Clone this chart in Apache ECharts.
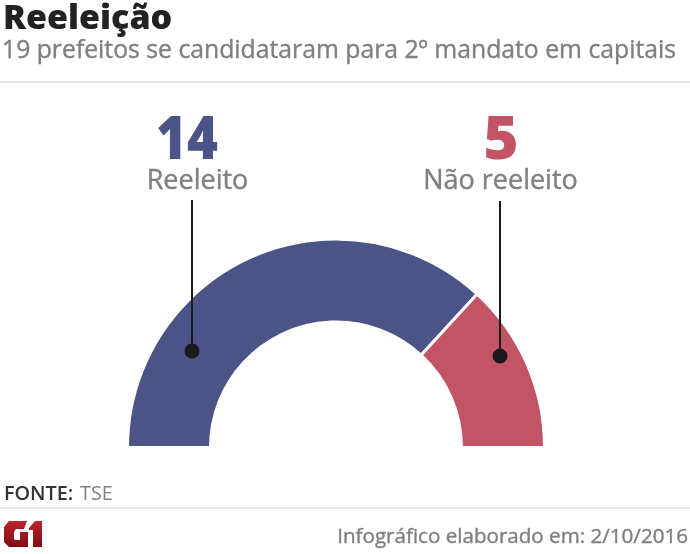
<!DOCTYPE html>
<html lang="pt">
<head>
    <meta charset="UTF-8">
    <title>Reeleição</title>
    <style>
        html, body { margin: 0; padding: 0; background: #fff; }
    </style>
</head>
<body>
<script src="https://cdn.jsdelivr.net/npm/echarts@6/dist/echarts.min.js"></script>

<div id="main" style="width: 690px;height:554px;"></div>

<script type="text/javascript">
    var categories = ['Reeleito', 'Não reeleito'];
    var values = [14, 5];
    var colors = ['#4c5387', '#c25466'];

    var font = '"Open Sans", sans-serif';
    var myChart = echarts.init(document.getElementById('main'));

    var data = [];
    for (var i = 0; i < categories.length; i++) {
        data.push({ name: categories[i], value: values[i], itemStyle: { color: colors[i] } });
    }

    function txt(x, y, text, size, weight, color, align, scaleX) {
        return {
            type: 'text', x: x, y: y, z: 10, scaleX: scaleX || 1,
            style: {
                text: text, fontSize: size, fontWeight: weight, fontFamily: font,
                fill: color, align: align || 'left', verticalAlign: 'middle',
                // os textos cinza da referencia sao um pouco mais grossos
                stroke: weight === 500 ? color : null, lineWidth: weight === 500 ? 0.4 : 0
            }
        };
    }
    function rule(y) {
        return { type: 'rect', shape: { x: 0, y: y, width: 690, height: 2 }, style: { fill: '#e6e6e6' } };
    }
    function leader(x, y1, y2) {
        return [
            { type: 'line', z: 10, shape: { x1: x, y1: y1, x2: x, y2: y2 }, style: { stroke: '#1a1a1a', lineWidth: 2 } },
            { type: 'circle', z: 10, shape: { cx: x, cy: y2, r: 7.5 }, style: { fill: '#1a1a1a' } }
        ];
    }
    // logo G1
    var logoFill = new echarts.graphic.LinearGradient(0, 0, 0, 1, [
        { offset: 0, color: '#c0222c' },
        { offset: 1, color: '#7e0d14' }
    ]);
    function logoPart(points) {
        return { type: 'polygon', z: 10, shape: { points: points }, style: { fill: logoFill } };
    }

    var graphics = [
        txt(3, 19, 'Reeleição', 34, 800, '#222222'),
        txt(2, 51, '19 prefeitos se candidataram para 2º mandato em capitais', 24.75, 500, '#808080'),
        rule(81),
        txt(187, 142, String(values[0]), 60, 800, colors[0], 'center', 0.88),
        txt(197.5, 181, categories[0], 27, 500, '#808080', 'center'),
        txt(501, 142, String(values[1]), 60, 800, colors[1], 'center'),
        txt(500.5, 181, categories[1], 27, 500, '#808080', 'center'),
        txt(4, 494, 'FONTE:', 19.8, 600, '#333333'),
        txt(80, 494, 'TSE', 19.8, 400, '#808080'),
        rule(507),
        txt(688, 537, 'Infográfico elaborado em: 2/10/2016', 20.6, 500, '#808080', 'right'),
        logoPart([[9, 521], [27, 521], [24, 529], [16, 529], [14, 532], [14, 539], [15, 540], [20, 540], [20, 532], [28, 532], [28, 547], [9, 547], [4, 542], [4, 527]]),
        logoPart([[29, 528], [35, 521], [42, 521], [42, 547], [33, 547], [33, 530], [29, 530]])
    ].concat(leader(192, 200, 351), leader(500, 201, 356));

    myChart.setOption({
        animation: false,
        graphic: graphics,
        series: [
            {
                type: 'pie',
                center: [336, 447.5],
                radius: [125.5, 208.5],
                startAngle: 180,
                endAngle: 0,
                itemStyle: { borderColor: '#ffffff', borderWidth: 3 },
                label: { show: false },
                labelLine: { show: false },
                silent: true,
                data: data
            }
        ]
    });
</script>
</body>
</html>
